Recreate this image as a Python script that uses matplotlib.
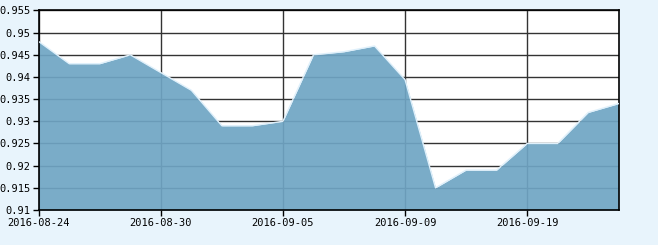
import numpy as np
import matplotlib.pyplot as plt

# daily values
dates = ["2016-08-24", "2016-08-25", "2016-08-26", "2016-08-29", "2016-08-30",
         "2016-08-31", "2016-09-01", "2016-09-02", "2016-09-05", "2016-09-06",
         "2016-09-07", "2016-09-08", "2016-09-09", "2016-09-12", "2016-09-13",
         "2016-09-14", "2016-09-19", "2016-09-20", "2016-09-21", "2016-09-22"]
values = [0.948, 0.943, 0.943, 0.945, 0.941, 0.937, 0.929, 0.929, 0.930, 0.945,
          0.9457, 0.947, 0.9394, 0.915, 0.919, 0.919, 0.925, 0.925, 0.932, 0.934]
y_ticks = [0.91, 0.915, 0.92, 0.925, 0.93, 0.935, 0.94, 0.945, 0.95, 0.955]
label_every = 4

bg = "#e8f4fc"
fill_color = "#6fa5c4"

fig = plt.figure(figsize=(6.58, 2.45), dpi=100, facecolor=bg)
ax = fig.add_axes([0.0588, 0.1429, 0.8815, 0.8143])
ax.set_facecolor("white")

x = np.arange(len(values))
ax.set_xlim(0, len(values) - 1)
ax.set_ylim(y_ticks[0], y_ticks[-1])

# grid under the fill, fill slightly transparent so lines show through
ax.set_axisbelow(True)
ax.grid(True, color="#333333", linewidth=1.0)
ax.fill_between(x, values, y_ticks[0], color=fill_color, alpha=0.92,
                linewidth=0, zorder=2)
ax.plot(x, values, color="#dff0fb", linewidth=1.0, zorder=3)

ax.set_yticks(y_ticks)
ax.set_yticklabels([f"{v:g}" for v in y_ticks])
tick_pos = x[::label_every]
ax.set_xticks(tick_pos)
ax.set_xticklabels([dates[i] for i in tick_pos])

for s in ax.spines.values():
    s.set_color("black")
    s.set_linewidth(1.2)

ax.tick_params(axis="both", direction="out", length=4, width=1,
               colors="black", labelsize=7.5, pad=2)
for lbl in ax.get_xticklabels() + ax.get_yticklabels():
    lbl.set_family("DejaVu Sans Mono")

fig.savefig("out.png", dpi=100, facecolor=bg)
